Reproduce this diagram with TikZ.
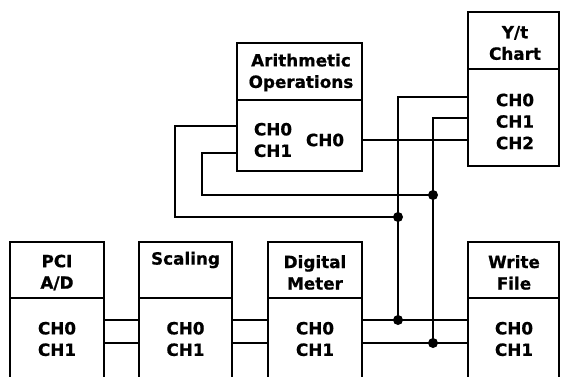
\documentclass[tikz,border=0pt]{standalone}
\usepackage{fontspec}
\setmainfont{DejaVu Sans}[BoldFeatures={FakeBold=0.8}]
\begin{document}
\begin{tikzpicture}[x=1pt,y=1pt,
  box/.style={draw, line width=2.6pt, inner sep=0pt},
  wire/.style={line width=2.4pt},
  lbl/.style={font=\bfseries\fontsize{16.8}{21.5}\selectfont, align=center, inner sep=0pt},
  dot/.style={circle, fill, inner sep=0pt, minimum size=10pt}]
\useasboundingbox (0,0) rectangle (561,376);
\clip (0,0) rectangle (561,376);
% boxes
\node[box, minimum width=94pt, minimum height=56pt] (pcit) at (57,106) {};
\node[box, minimum width=94pt, minimum height=94pt] (pcib) at (57,31) {};
\node[box, minimum width=93pt, minimum height=56pt] (sct) at (185.5,106) {};
\node[box, minimum width=93pt, minimum height=94pt] (scb) at (185.5,31) {};
\node[box, minimum width=94pt, minimum height=56pt] (dmt) at (315,106) {};
\node[box, minimum width=94pt, minimum height=94pt] (dmb) at (315,31) {};
\node[box, minimum width=91pt, minimum height=56pt] (wft) at (513.5,106) {};
\node[box, minimum width=91pt, minimum height=94pt] (wfb) at (513.5,31) {};
\node[box, minimum width=125pt, minimum height=57pt] (art) at (299.5,304.5) {};
\node[box, minimum width=125pt, minimum height=71pt] (arb) at (299.5,240.5) {};
\node[box, minimum width=91pt, minimum height=57pt] (ytt) at (513.5,335.5) {};
\node[box, minimum width=91pt, minimum height=97pt] (ytb) at (513.5,258.5) {};
% texts
\node[lbl] (tpci) at (57,103.5) {PCI\\A/D};
\node[lbl] (tsc) at (185.5,116) {Scaling};
\node[lbl] (tdm) at (315,103.5) {Digital\\Meter};
\node[lbl] (twf) at (514,103.5) {Write\\File};
\node[lbl] (cpci) at (57,37) {CH0\\CH1};
\node[lbl] (csc) at (185.5,37) {CH0\\CH1};
\node[lbl] (cdm) at (315,37) {CH0\\CH1};
\node[lbl] (cwf) at (514,37) {CH0\\CH1};
\node[lbl] (tar) at (301,303.5) {Arithmetic\\Operations};
\node[lbl] (car) at (273,236) {CH0\\CH1};
\node[lbl] (oar) at (325,236) {CH0};
\node[lbl] (tyt) at (515,333) {Y/t\\Chart};
\node[lbl] (cyt) at (515,254.5) {CH0\\CH1\\CH2};
% ports
\coordinate (pci0) at (104,56); \coordinate (pci1) at (104,33);
\coordinate (sc0i) at (139,56); \coordinate (sc1i) at (139,33);
\coordinate (sc0o) at (232,56); \coordinate (sc1o) at (232,33);
\coordinate (dm0i) at (268,56); \coordinate (dm1i) at (268,33);
\coordinate (dm0o) at (362,56); \coordinate (dm1o) at (362,33);
\coordinate (wf0) at (468,56); \coordinate (wf1) at (468,33);
\coordinate (yt0) at (468,279); \coordinate (yt1) at (468,258); \coordinate (yt2) at (468,236);
\coordinate (aro) at (362,236);
\coordinate (ar0) at (237,250); \coordinate (ar1) at (237,223);
\coordinate (j1) at (398,56); \coordinate (j2) at (433,33);
\coordinate (j3) at (398,159); \coordinate (j4) at (433,181);
\coordinate (b0) at (175,250); \coordinate (b1) at (202,223);
% wires
\draw[wire] (pci0) -- (sc0i); \draw[wire] (pci1) -- (sc1i);
\draw[wire] (sc0o) -- (dm0i); \draw[wire] (sc1o) -- (dm1i);
\draw[wire] (dm0o) -- (wf0); \draw[wire] (dm1o) -- (wf1);
\draw[wire] (aro) -- (yt2);
\draw[wire] (yt0) -| (j1);
\draw[wire] (yt1) -| (j2);
\draw[wire] (ar0) -- (b0) |- (j3);
\draw[wire] (ar1) -- (b1) |- (j4);
\node[dot] at (j1) {}; \node[dot] at (j2) {};
\node[dot] at (j3) {}; \node[dot] at (j4) {};
\end{tikzpicture}
\end{document}
